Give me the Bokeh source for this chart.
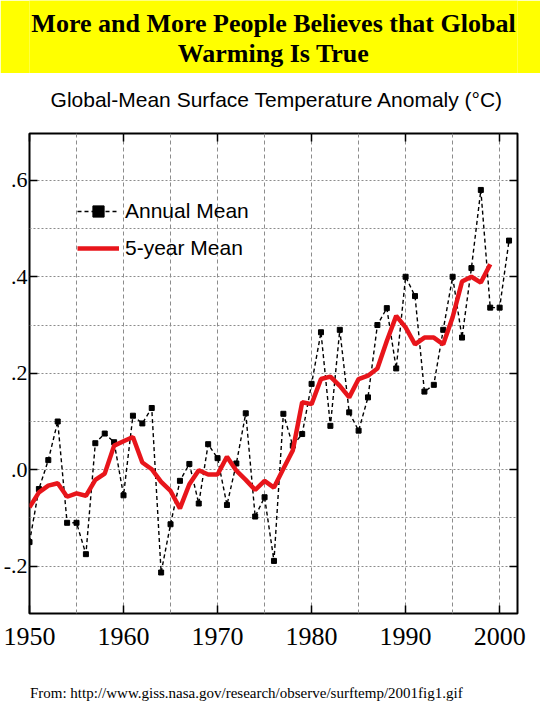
from bokeh.plotting import figure
from bokeh.models import (Range1d, LinearAxis, FixedTicker, Label, Legend,
                          LegendItem, ColumnDataSource)
from bokeh.layouts import column
from bokeh.embed import file_html
from bokeh.resources import INLINE

# ---------------- data ----------------
years_annual = list(range(1950, 2002))
annual_mean = [
    -0.150, -0.040, 0.020, 0.100, -0.110, -0.110, -0.175, 0.055, 0.075, 0.057,
    -0.053, 0.112, 0.096, 0.128, -0.213, -0.113, -0.023, 0.012, -0.070, 0.053,
    0.024, -0.073, 0.013, 0.117, -0.097, -0.057, -0.189, 0.116, 0.050, 0.074,
    0.178, 0.285, 0.091, 0.290, 0.119, 0.081, 0.150, 0.300, 0.335, 0.210,
    0.400, 0.360, 0.162, 0.176, 0.290, 0.400, 0.274, 0.418, 0.580, 0.336,
    0.336, 0.475,
]
years_5yr = list(range(1950, 2000))
five_year_mean = [
    -0.078, -0.047, -0.033, -0.028, -0.056, -0.049, -0.054, -0.021, -0.008, 0.050,
    0.059, 0.068, 0.015, 0.001, -0.025, -0.044, -0.080, -0.030, -0.001, -0.010,
    -0.010, 0.027, -0.002, -0.021, -0.042, -0.023, -0.037, 0.002, 0.040, 0.140,
    0.136, 0.188, 0.193, 0.174, 0.150, 0.188, 0.195, 0.210, 0.267, 0.319,
    0.295, 0.260, 0.274, 0.274, 0.260, 0.316, 0.390, 0.400, 0.388, 0.426,
]
x_ticks = [1950, 1960, 1970, 1980, 1990, 2000]
x_grid = [1955, 1960, 1965, 1970, 1975, 1980, 1985, 1990, 1995, 2000]
y_ticks = [-0.2, 0.0, 0.2, 0.4, 0.6]
y_grid = [-0.2, -0.1, 0.0, 0.1, 0.2, 0.3, 0.4, 0.5, 0.6]
y_tick_labels = {-0.2: "-.2", 0.0: ".0", 0.2: ".2", 0.4: ".4", 0.6: ".6"}

banner_lines = ["More and More People Believes that Global", "Warming Is True"]
chart_title = "Global-Mean Surface Temperature Anomaly (°C)"
source_note = "From: http://www.giss.nasa.gov/research/observe/surftemp/2001fig1.gif"


def text_strip(height, bg):
    """A plain strip (pixel-scaled ranges) used to hold text lines."""
    return figure(width=540, height=height, x_range=Range1d(0, 540),
                  y_range=Range1d(0, height), toolbar_location=None,
                  output_backend="svg", min_border=0, x_axis_type=None,
                  y_axis_type=None, background_fill_color=bg,
                  border_fill_color=bg, outline_line_color=None)


# ---------------- banner ----------------
banner = text_strip(73, "#ffff00")
for txt, yy in zip(banner_lines, [50, 20]):
    banner.add_layout(Label(x=270, y=yy, text=txt, text_align="center",
                            text_baseline="middle", text_font="Liberation Serif",
                            text_font_style="bold", text_font_size="26px",
                            text_color="black"))

# ---------------- chart title ----------------
title_fig = text_strip(57, "white")
title_fig.add_layout(Label(x=274, y=31, text=chart_title, text_align="center",
                           text_baseline="middle", text_font="Liberation Sans",
                           text_font_size="21px", text_color="black"))

# ---------------- main chart ----------------
p = figure(width=540, height=535, x_range=Range1d(1950, 2001.9),
           y_range=Range1d(-0.298, 0.697), toolbar_location=None,
           output_backend="svg", min_border_left=27, min_border_right=23,
           min_border_top=3, min_border_bottom=52,
           outline_line_color="black", outline_line_width=2,
           background_fill_color="white", border_fill_color="white")

p.xaxis.ticker = FixedTicker(ticks=x_ticks)
p.yaxis.ticker = FixedTicker(ticks=y_ticks)
p.yaxis.major_label_overrides = y_tick_labels
for ax in [p.xaxis[0], p.yaxis[0]]:
    ax.axis_line_color = None
    ax.major_tick_in = 8
    ax.major_tick_out = 0
    ax.major_tick_line_width = 1.5
    ax.major_tick_line_color = "black"
    ax.minor_tick_line_color = None
    ax.major_label_text_font = "Liberation Serif"
    ax.major_label_text_color = "black"
p.xaxis.major_label_text_font_size = "26px"
p.xaxis.major_label_standoff = 14
p.yaxis.major_label_text_font_size = "22px"
p.yaxis.major_label_standoff = 2

top_axis = LinearAxis(ticker=FixedTicker(ticks=x_ticks), axis_line_color=None,
                      major_tick_in=8, major_tick_out=0, major_tick_line_width=1.5,
                      minor_tick_line_color=None, major_label_text_font_size="1px",
                      major_label_text_color=None, major_label_standoff=0)
right_axis = LinearAxis(ticker=FixedTicker(ticks=y_ticks), axis_line_color=None,
                        major_tick_in=8, major_tick_out=0, major_tick_line_width=1.5,
                        minor_tick_line_color=None, major_label_text_font_size="1px",
                        major_label_text_color=None, major_label_standoff=0)
p.add_layout(top_axis, "above")
p.add_layout(right_axis, "right")

p.xgrid.ticker = FixedTicker(ticks=x_grid)
p.ygrid.ticker = FixedTicker(ticks=y_grid)
p.xgrid.grid_line_color = "#8c8c8c"
p.xgrid.grid_line_dash = "4 3"
p.xgrid.grid_line_width = 1
p.ygrid.grid_line_color = "#8c8c8c"
p.ygrid.grid_line_dash = "2 2"
p.ygrid.grid_line_width = 1

src_a = ColumnDataSource(dict(year=years_annual, temp=annual_mean))
src_5 = ColumnDataSource(dict(year=years_5yr, temp=five_year_mean))
r_line = p.line("year", "temp", source=src_a, line_color="black",
                line_dash="4 3", line_width=1.4)
r_pts = p.scatter("year", "temp", source=src_a, marker="square", size=5,
                  fill_color="black", line_color="black")
r_red = p.line("year", "temp", source=src_5, line_color="#e8151b", line_width=4.5)

legend = Legend(items=[LegendItem(label="Annual Mean", renderers=[r_line, r_pts]),
                       LegendItem(label="5-year Mean", renderers=[r_red])],
                location=(48, 351), orientation="vertical",
                label_text_font="Liberation Sans", label_text_font_size="21px",
                label_text_color="black", label_height=28, glyph_height=28,
                glyph_width=42, label_standoff=6, spacing=9, padding=0, margin=0,
                border_line_color=None, background_fill_alpha=0)
p.add_layout(legend)

# ---------------- source note ----------------
note_fig = text_strip(55, "white")
note_fig.add_layout(Label(x=0.5, y=28, text=source_note, text_align="left",
                          text_baseline="alphabetic", text_font="Liberation Serif",
                          text_font_size="15px", text_color="black"))

layout = column(banner, title_fig, p, note_fig, spacing=0)
open("out.html", "w").write(file_html(layout, INLINE))
